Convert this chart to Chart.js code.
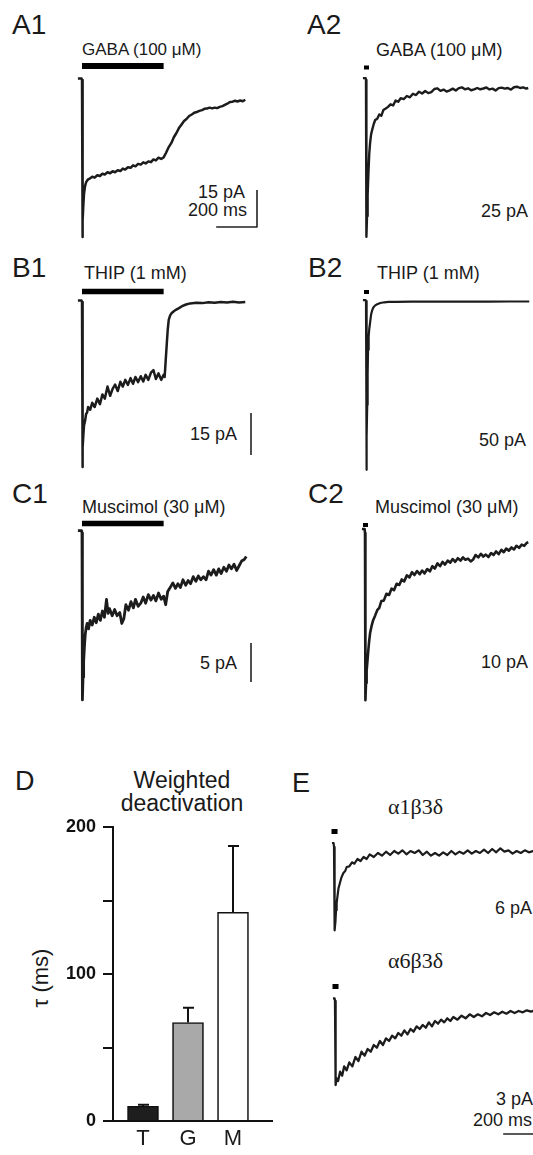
<!DOCTYPE html>
<html>
<head>
<meta charset="utf-8">
<script src="https://cdn.jsdelivr.net/npm/chart.js@4.4.0/dist/chart.umd.min.js"></script>
<style>
  body { margin: 0; background: #fff; }
  #fig { position: relative; width: 533px; height: 1155px; overflow: hidden;
         font-family: Arial, "Liberation Sans", sans-serif; color: #1a1a1a; }
  #fig canvas { position: absolute; }
  .t { position: absolute; white-space: nowrap; line-height: 1; }
  .lab { font-size: 28px; }
  .drug { font-size: 18px; }
  .cal { font-size: 18px; }
  .sub { font-family: "Liberation Serif", "Times New Roman", serif; font-size: 22px; }
</style>
</head>
<body>
<div id="fig">
  <div class="t lab" style="left:12px;top:11px">A1</div>
  <div class="t drug" style="left:82px;top:41px;font-size:17px">GABA (100 μM)</div>
  <div class="t cal" style="right:288px;top:183px">15 pA</div>
  <div class="t cal" style="right:286px;top:201px">200 ms</div>

  <div class="t lab" style="left:307px;top:11px">A2</div>
  <div class="t drug" style="left:376px;top:41px">GABA (100 μM)</div>
  <div class="t cal" style="right:5px;top:202px">25 pA</div>

  <div class="t lab" style="left:12px;top:254px">B1</div>
  <div class="t drug" style="left:84px;top:264px">THIP (1 mM)</div>
  <div class="t cal" style="right:296px;top:425px">15 pA</div>

  <div class="t lab" style="left:308px;top:254px">B2</div>
  <div class="t drug" style="left:377px;top:264px">THIP (1 mM)</div>
  <div class="t cal" style="right:7px;top:431px">50 pA</div>

  <div class="t lab" style="left:12px;top:480px">C1</div>
  <div class="t drug" style="left:82px;top:498px">Muscimol (30 μM)</div>
  <div class="t cal" style="right:296px;top:654px">5 pA</div>

  <div class="t lab" style="left:308px;top:480px">C2</div>
  <div class="t drug" style="left:375px;top:498px">Muscimol (30 μM)</div>
  <div class="t cal" style="right:5px;top:653px">10 pA</div>

  <div class="t lab" style="left:15px;top:768px;font-size:27px">D</div>
  <div class="t" style="left:182px;top:769px;transform:translateX(-50%);font-size:23px;line-height:23px;text-align:center">Weighted<br>deactivation</div>
  <div class="t" style="left:41px;top:978px;transform:translate(-50%,-50%) rotate(-90deg);font-size:22px">τ (ms)</div>

  <div class="t lab" style="left:292px;top:770px;font-size:27px">E</div>
  <div class="t sub" style="left:388px;top:796px">α1β3δ</div>
  <div class="t sub" style="left:388px;top:950px">α6β3δ</div>
  <div class="t cal" style="right:1px;top:899px">6 pA</div>
  <div class="t cal" style="right:0px;top:1090px">3 pA</div>
  <div class="t cal" style="left:473px;top:1111px">200 ms</div>
</div>

<script>
// --- recorded currents: time in ms from agonist onset, current in pA ---
const a1Time = [-20, -2, 0, 2, 4, 7, 10, 15, 20, 25,
  30, 40, 50, 62, 75, 88, 100, 112, 125, 138,
  150, 162, 175, 188, 200, 212, 225, 238, 250, 262,
  275, 288, 300, 312, 325, 338, 350, 362, 375, 388,
  400, 412, 425, 438, 450, 462, 475, 488, 500, 512,
  525, 538, 550, 562, 575, 588, 600, 612, 625, 638,
  650, 662, 675, 688, 700, 712, 725, 738, 750, 762,
  775, 788, 800];
const a1Current = [0.6, 0.6, 0, -63.6, -57, -50, -46, -43, -41.5, -40.8,
  -40.3, -39.9, -39.2, -39.6, -38.6, -38.9, -38.0, -38.3, -37.4, -37.8,
  -37.0, -37.4, -36.6, -36.9, -35.9, -36.3, -35.4, -35.6, -34.6, -35.0,
  -34.0, -34.3, -33.4, -33.8, -33.0, -33.3, -32.2, -32.6, -31.5, -32.0,
  -31.4, -29.5, -27.2, -25.5, -23.2, -21.6, -19.5, -18.0, -16.6, -15.8,
  -14.6, -14.0, -13.3, -13.0, -12.5, -12.2, -11.7, -11.6, -11.2, -11.5,
  -11.2, -11.4, -10.9, -10.6, -10.1, -9.6, -8.9, -8.8, -8.4, -8.7,
  -8.3, -8.6, -8.0];

const a2Time = [-15, -2, 0, 2, 5, 8, 12, 16, 20, 25,
  30, 38, 45, 55, 65, 75, 85, 95, 108, 120,
  133, 145, 158, 170, 185, 200, 215, 230, 245, 260,
  275, 290, 305, 320, 335, 350, 365, 380, 395, 410,
  425, 440, 455, 470, 485, 500, 515, 530, 545, 560,
  575, 590, 605, 620, 635, 650, 665, 680, 695, 710,
  725, 740, 755, 770, 785, 795];
const a2Current = [1.2, 1.2, 0, -98, -85, -72, -58, -46, -39.4, -34,
  -31.3, -27.5, -25.0, -24.2, -21.5, -22.4, -18.8, -18.0, -16.8, -15.2,
  -15.9, -12.8, -13.6, -11.4, -11.9, -10.0, -10.8, -8.6, -9.4, -7.3,
  -8.4, -6.9, -8.2, -7.6, -5.6, -5.2, -6.8, -6.0, -7.2, -6.5,
  -5.4, -6.6, -5.1, -4.6, -5.8, -5.2, -6.4, -5.9, -5.0, -5.8,
  -5.3, -4.7, -5.9, -5.4, -6.6, -5.1, -4.8, -5.4, -5.0, -6.0,
  -4.5, -4.2, -5.0, -4.6, -5.4, -5.0];

const b1Time = [-20, -2, 0, 2, 4, 7, 10, 15, 20, 25,
  30, 40, 50, 62, 75, 88, 100, 112, 125, 138,
  150, 162, 175, 188, 200, 212, 225, 238, 250, 262,
  275, 288, 300, 312, 325, 338, 350, 362, 375, 388,
  400, 405, 410, 415, 420, 425, 432, 440, 450, 460,
  475, 490, 510, 530, 560, 590, 620, 650, 680, 710,
  740, 770, 800];
const b1Current = [0.5, 0.5, 0, -58.9, -52, -47, -44, -42.5, -40, -39.5,
  -37.5, -38.5, -36, -37.5, -34.5, -36.5, -33, -34.5, -30.2, -33.5,
  -31, -29.5, -31.8, -28.5, -30.2, -27.8, -29.6, -27.2, -29.2, -26.8,
  -28.6, -26.5, -28.4, -26.0, -27.8, -25.2, -24.3, -27.5, -25.5, -27.8,
  -26.0, -26.8, -21, -15.4, -10, -6.4, -4.8, -3.9, -3.3, -2.8,
  -2.2, -1.5, -0.9, -0.5, -0.3, -0.4, -0.1, -0.3, 0, -0.2,
  0.1, -0.2, 0];

const b2Time = [-15, -2, 0, 2, 4, 6, 8, 10, 13, 16,
  20, 25, 30, 35, 45, 55, 70, 90, 110, 150,
  220, 300, 400, 500, 600, 700, 800];
const b2Current = [1.2, 1.2, 0, -211, -170, -130, -92, -61, -45, -35,
  -27, -17, -12, -8.5, -5.5, -4, -2.5, -1.6, -1.2, -1.0,
  -0.8, -0.8, -0.8, -0.7, -0.7, -0.6, -0.6];

const c1Time = [-20, -2, 0, 2, 5, 8, 12, 16, 20, 25,
  32, 40, 50, 60, 70, 80, 90, 100, 110, 120,
  128, 135, 148, 160, 172, 185, 195, 205, 215, 228,
  240, 252, 262, 275, 288, 300, 312, 325, 338, 350,
  362, 375, 388, 400, 410, 420, 432, 445, 458, 470,
  482, 495, 508, 520, 532, 545, 558, 570, 582, 595,
  608, 620, 632, 645, 658, 670, 682, 695, 708, 720,
  732, 745, 758, 770, 782, 795, 805];
const c1Current = [0.3, 0.3, 0, -21.4, -18.5, -16.5, -14.5, -13.0, -12.2, -11.6,
  -12.3, -11.2, -11.8, -10.8, -11.5, -10.4, -11.2, -10.0, -10.8, -8.5,
  -10.3, -9.7, -10.6, -9.8, -10.6, -10.2, -11.6, -11.0, -9.2, -9.9,
  -8.8, -9.6, -8.5, -9.4, -9.0, -8.2, -9.0, -7.9, -8.6, -8.0,
  -8.7, -7.7, -8.5, -8.1, -9.2, -7.5, -7.0, -6.4, -7.1, -6.5,
  -7.0, -6.0, -6.7, -6.1, -6.5, -5.6, -6.2, -5.5, -6.0, -5.6,
  -6.0, -4.9, -5.4, -4.7, -5.4, -4.6, -5.2, -4.4, -4.9, -4.1,
  -4.6, -4.0, -4.8, -4.2, -3.6, -3.4, -3.0];

const c2Time = [-15, -2, 0, 2, 5, 8, 12, 16, 20, 25,
  32, 40, 50, 60, 70, 80, 92, 105, 118, 130,
  142, 155, 168, 180, 192, 205, 218, 230, 242, 255,
  268, 280, 292, 305, 318, 330, 342, 355, 368, 380,
  392, 405, 418, 430, 442, 455, 468, 480, 492, 505,
  518, 530, 542, 555, 568, 580, 592, 605, 618, 630,
  642, 655, 668, 680, 692, 705, 718, 730, 742, 755,
  768, 780, 792, 800];
const c2Current = [1.0, 1.0, 0, -41.8, -37.5, -34.5, -32, -29.5, -27.2, -25.0,
  -23.3, -21.8, -20.6, -19.3, -18.7, -17.0, -16.9, -15.2, -15.5, -13.9,
  -14.3, -12.7, -13.0, -11.6, -12.1, -10.6, -11.1, -9.8, -10.5, -9.5,
  -10.3, -9.4, -10.1, -9.0, -9.6, -8.3, -8.9, -7.6, -8.3, -7.2,
  -7.9, -6.9, -7.4, -6.5, -7.2, -6.3, -6.9, -6.1, -6.7, -6.4,
  -7.1, -6.6, -5.5, -6.1, -5.2, -5.9, -5.4, -6.0, -5.0, -5.5,
  -4.6, -5.3, -4.2, -4.8, -3.9, -4.4, -3.6, -4.1, -3.2, -3.7,
  -2.9, -3.2, -2.5, -2.3];

// E: a1b3d and a6b3d receptors
const e1Time = [-10, -2, 0, 2, 4, 7, 10, 13, 17, 22,
  29, 36, 46, 55, 62, 75, 88, 100, 115, 130,
  145, 160, 175, 195, 215, 235, 255, 275, 295, 315,
  335, 355, 375, 395, 415, 435, 455, 475, 495, 515,
  535, 555, 575, 595, 615, 635, 655, 675, 695, 715,
  735, 755, 775, 795, 815, 835, 855, 875, 895, 915,
  935, 955, 975, 995];
const e1Current = [0.6, 0.6, 0, -9, -12.5, -11.2, -9.5, -8.4, -7.4, -6.2,
  -5.4, -4.6, -3.9, -3.6, -3.0, -2.9, -2.3, -2.5, -1.8, -2.1,
  -1.5, -1.8, -1.1, -1.5, -0.9, -1.3, -0.7, -1.2, -0.6, -1.0,
  -0.5, -1.1, -0.6, -0.9, -0.5, -1.2, -0.7, -1.3, -0.9, -1.3,
  -0.8, -1.2, -0.6, -1.1, -0.7, -1.0, -0.5, -1.0, -0.6, -0.9,
  -0.4, -0.9, -0.3, -0.8, -0.2, -0.7, -0.5, -1.0, -0.6, -0.9,
  -0.5, -0.8, -0.6, -0.9];

const e2Time = [-10, -2, 0, 2, 4, 8, 15, 25, 35, 45,
  57, 70, 85, 100, 115, 130, 145, 160, 175, 190,
  205, 220, 235, 250, 265, 280, 295, 310, 325, 340,
  355, 370, 385, 400, 415, 430, 445, 460, 475, 490,
  505, 520, 535, 550, 565, 580, 600, 620, 640, 660,
  680, 700, 720, 740, 760, 780, 800, 820, 840, 860,
  880, 900, 920, 940, 960, 980, 1000];
const e2Current = [0.2, 0.2, 0, -4, -6.3, -5.8, -6.0, -5.3, -5.6, -4.9,
  -5.2, -4.6, -4.9, -4.2, -4.5, -3.8, -4.1, -3.6, -3.8, -3.3,
  -3.5, -3.0, -3.3, -2.8, -3.0, -2.6, -2.8, -2.4, -2.6, -2.2,
  -2.5, -2.1, -2.3, -1.9, -2.1, -1.8, -2.0, -1.6, -1.9, -1.5,
  -1.7, -1.4, -1.6, -1.3, -1.5, -1.2, -1.4, -1.1, -1.3, -1.0,
  -1.2, -1.0, -1.15, -0.9, -1.05, -0.85, -1.0, -0.8, -0.95, -0.75,
  -0.9, -0.75, -0.85, -0.7, -0.8, -0.7, -0.75];

// agonist application (ms)
const longApp = 400;
const pulseApp = 5;

// D: weighted deactivation tau
const barCats = ['T', 'G', 'M'];
const tauMean = [10, 67, 142];
const tauSem = [1, 10, 45];
const tauLabeled = [0, 100, 200];

// panel geometry: canvas box on the page, pixel of t=0 / I=0, and px scale
const panels = [
  { time: a1Time, current: a1Current, box: [60, 55, 205, 190], x0: 82, y0: 80, msPx: 4.9, pAPx: 15 / 37,
    app: longApp, appLift: 14, appW: 6, lw: 2.5, cal: { px: 257, py: 227, pA: 15, ms: 200 } },
  { time: a2Time, current: a2Current, box: [340, 55, 193, 190], x0: 366, y0: 80, msPx: 4.9, pAPx: 25 / 40,
    app: pulseApp, appLift: 12.5, appW: 4, lw: 2.4 },
  { time: b1Time, current: b1Current, box: [60, 280, 205, 195], x0: 82, y0: 302, msPx: 4.9, pAPx: 15 / 42,
    app: longApp, appLift: 10.5, appW: 5.5, lw: 2.5, cal: { px: 251, py: 455, pA: 15 } },
  { time: b2Time, current: b2Current, box: [340, 280, 193, 195], x0: 366, y0: 301, msPx: 4.9, pAPx: 50 / 40,
    app: pulseApp, appLift: 9, appW: 4, lw: 2.2 },
  { time: c1Time, current: c1Current, box: [60, 512, 205, 195], x0: 82, y0: 533, msPx: 4.9, pAPx: 5 / 39,
    app: longApp, appLift: 9.5, appW: 5.5, lw: 2.8, cal: { px: 251, py: 682, pA: 5 } },
  { time: c2Time, current: c2Current, box: [340, 512, 193, 195], x0: 365, y0: 533, msPx: 4.9, pAPx: 10 / 40,
    app: pulseApp, appLift: 8, appW: 4, lw: 2.6 },
  { time: e1Time, current: e1Current, box: [320, 820, 213, 125], x0: 334, y0: 847, msPx: 4.9, pAPx: 6 / 40,
    app: pulseApp, appLift: 15.5, appW: 5, lw: 2.2 },
  { time: e2Time, current: e2Current, box: [320, 975, 213, 170], x0: 335, y0: 1001, msPx: 4.9, pAPx: 3 / 40,
    app: pulseApp, appLift: 14.5, appW: 5, lw: 2.3, cal: { px: 544, py: 1134, ms: 200 } }
];

const fig = document.getElementById('fig');

function toData(p, px, py) {
  return { x: (px - p.x0) * p.msPx, y: (p.y0 - py) * p.pAPx };
}

function addCanvas(box) {
  const cv = document.createElement('canvas');
  cv.width = box[2]; cv.height = box[3];
  cv.style.left = box[0] + 'px'; cv.style.top = box[1] + 'px';
  fig.appendChild(cv);
  return cv;
}

function drawTrace(p) {
  const [left, top, w, h] = p.box;
  const cv = addCanvas(p.box);
  const lo = toData(p, left, top + h);
  const hi = toData(p, left + w, top);
  const lift = p.appLift * p.pAPx;
  const sets = [
    { data: p.time.map((t, i) => ({ x: t, y: p.current[i] })), borderColor: '#1c1c1c', borderWidth: p.lw },
    { data: [{ x: 0, y: lift }, { x: p.app, y: lift }], borderColor: '#000', borderWidth: p.appW,
      borderCapStyle: p.app < 50 ? 'square' : 'butt' }
  ];
  if (p.cal) {
    const c = toData(p, p.cal.px, p.cal.py);
    const pts = [];
    if (p.cal.ms) pts.push({ x: c.x - p.cal.ms, y: c.y });
    pts.push({ x: c.x, y: c.y });
    if (p.cal.pA) pts.push({ x: c.x, y: c.y + p.cal.pA });
    sets.push({ data: pts, borderColor: '#222', borderWidth: 1.6 });
  }
  new Chart(cv, {
    type: 'line',
    data: { datasets: sets },
    options: {
      responsive: false, animation: false, devicePixelRatio: 1, events: [],
      layout: { padding: 0 },
      elements: { point: { radius: 0 }, line: { tension: 0, borderJoinStyle: 'round' } },
      plugins: { legend: { display: false }, tooltip: { enabled: false } },
      scales: {
        x: { type: 'linear', display: false, min: lo.x, max: hi.x },
        y: { type: 'linear', display: false, min: lo.y, max: hi.y }
      }
    }
  });
}

panels.forEach(drawTrace);

// error bars for panel D (upward only)
const errorBars = {
  id: 'errorBars',
  afterDatasetsDraw(chart) {
    const { ctx, scales: { x, y } } = chart;
    ctx.save();
    ctx.strokeStyle = '#111';
    ctx.lineWidth = 2;
    tauMean.forEach((m, i) => {
      const cx = x.getPixelForValue(i + 1);
      const yb = y.getPixelForValue(m);
      const yt = y.getPixelForValue(m + tauSem[i]);
      ctx.beginPath();
      ctx.moveTo(cx, yb); ctx.lineTo(cx, yt);
      ctx.moveTo(cx - 5, yt); ctx.lineTo(cx + 6, yt);
      ctx.stroke();
    });
    ctx.restore();
  }
};

new Chart(addCanvas([40, 815, 233, 340]), {
  type: 'bar',
  data: {
    datasets: [{
      data: tauMean.map((v, i) => ({ x: i + 1, y: v })),
      backgroundColor: ['#1e1e1e', '#a9a9a9', '#ffffff'],
      borderColor: '#111', borderWidth: 1.6, barThickness: 31
    }]
  },
  options: {
    responsive: false, animation: false, devicePixelRatio: 1, events: [],
    layout: { padding: { top: 12, left: 0, right: 0, bottom: 0 } },
    plugins: { legend: { display: false }, tooltip: { enabled: false } },
    scales: {
      x: {
        type: 'linear', offset: false, min: 1 - 30 / 45, max: 3 + 40 / 45,
        grid: { display: false, drawTicks: false },
        border: { display: true, color: '#111', width: 2 },
        afterBuildTicks: s => { s.ticks = barCats.map((c, i) => ({ value: i + 1 })); },
        afterFit: s => { s.height = 34; s.paddingLeft = 0; s.paddingRight = 0; },
        ticks: { callback: v => barCats[v - 1], color: '#1a1a1a', padding: 5,
                 font: { family: 'Arial, "Liberation Sans", sans-serif', size: 22 } }
      },
      y: {
        min: 0, max: 200,
        grid: { display: true, drawOnChartArea: false, drawTicks: true, tickLength: 10, color: '#111', lineWidth: 2 },
        border: { display: true, color: '#111', width: 2 },
        afterFit: s => { s.width = 73; s.paddingTop = 0; s.paddingBottom = 0; },
        ticks: { stepSize: 50, padding: 7, color: '#111',
                 callback: v => tauLabeled.includes(v) ? String(v) : '',
                 font: { family: 'Arial, "Liberation Sans", sans-serif', size: 18, weight: 'bold' } }
      }
    }
  },
  plugins: [errorBars]
});
</script>
</body>
</html>
